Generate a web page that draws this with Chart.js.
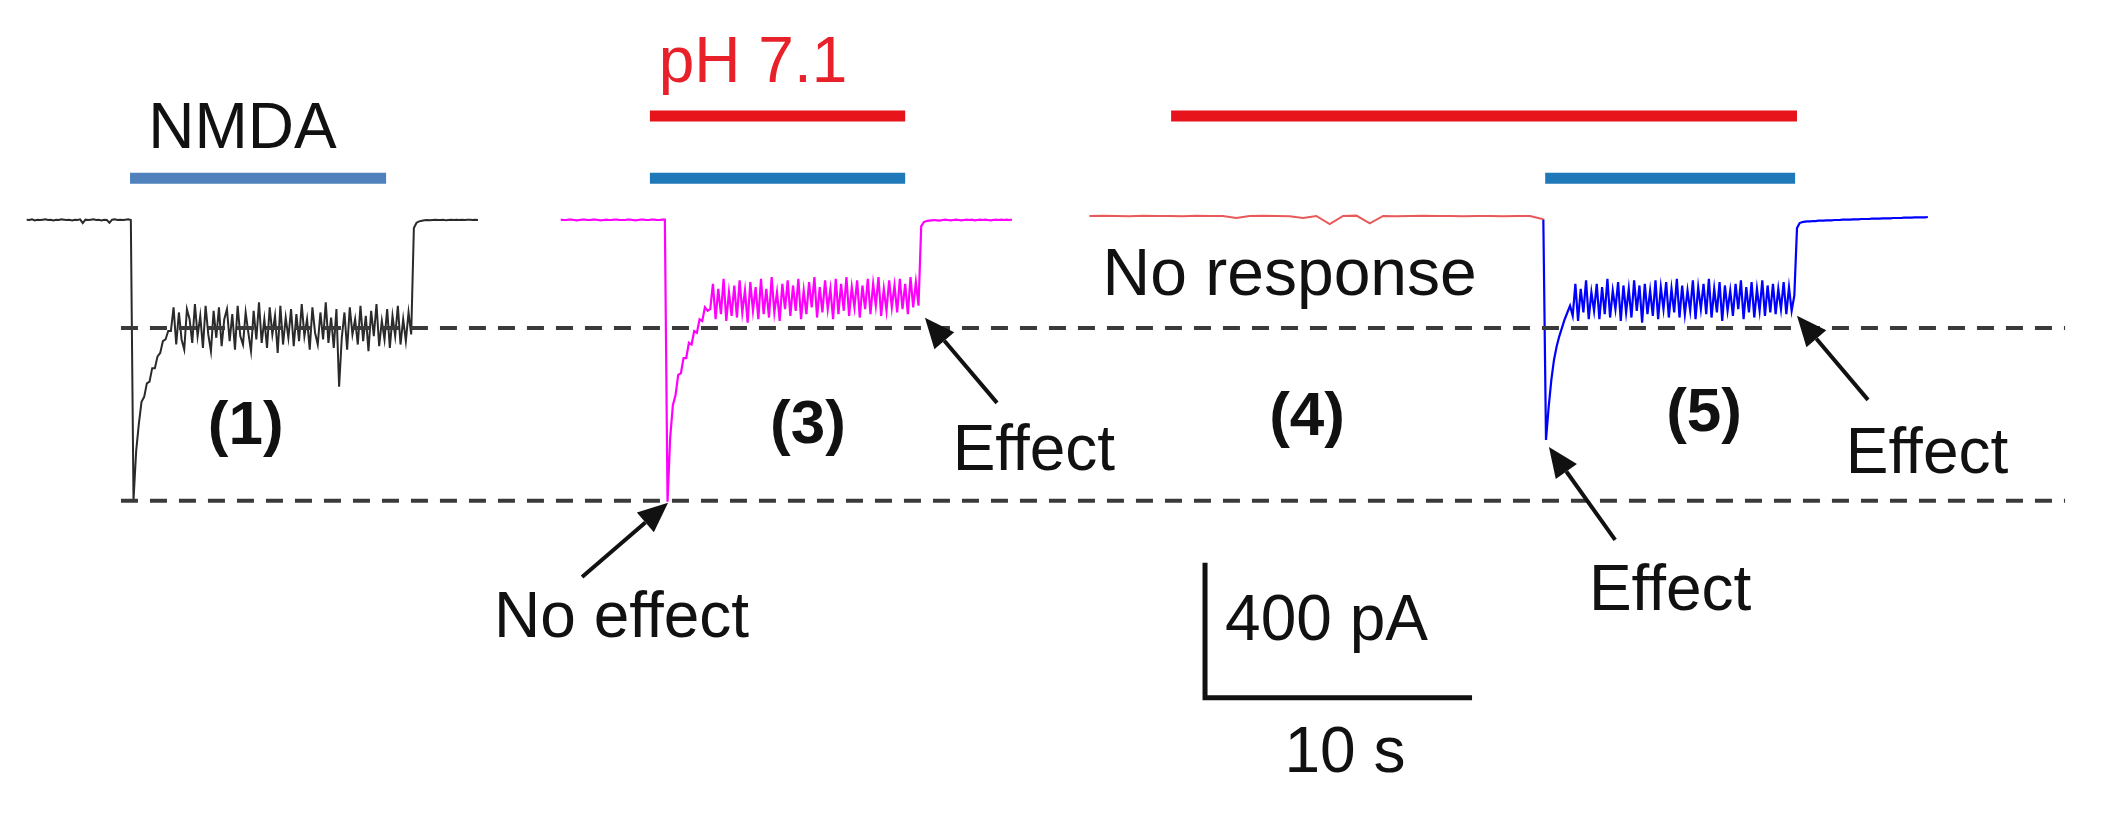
<!DOCTYPE html>
<html>
<head>
<meta charset="utf-8">
<script src="https://cdn.jsdelivr.net/npm/chart.js@4.4.0/dist/chart.umd.min.js"></script>
<style>
  html, body { margin: 0; padding: 0; background: #ffffff; }
  #wrap { width: 2111px; height: 821px; }
</style>
</head>
<body>
<div id="wrap"><canvas id="c" width="2111" height="821"></canvas></div>
<script>
// ---------------- DATA (time in s, current in pA) ----------------
// Trace (1): NMDA at normal pH — sampled recording
const trace1Start = 1.0;
const trace1Step = 0.1;
const trace1Current = [
  -5,-6,-4,-7,-5,-6,-5,-4,-6,-5,
  -7,-5,-6,-4,-5,-6,-5,-7,-5,-6,
  -4,-15,-5,-6,-5,-4,-6,-5,-7,-5,
  -6,-14,-5,-4,-6,-5,-6,-5,-4,-6,
  -836,-690,-610,-545,-530,-490,-485,-445,-445,-410,-400,-365,-360,-335,-335,
  -265,-375,-280,-360,-390,-270,-300,-370,-255,-350,
  -290,-385,-260,-345,-395,-275,-355,-265,-380,-300,
  -270,-365,-285,-390,-260,-350,-375,-280,-340,-395,
  -275,-360,-250,-370,-300,-385,-265,-345,-290,-400,
  -260,-375,-295,-355,-270,-380,-285,-365,-255,-350,
  -300,-390,-265,-340,-375,-280,-360,-250,-370,-295,
  -385,-270,-500,-355,-280,-390,-265,-345,-300,-375,
  -260,-365,-290,-395,-275,-350,-255,-380,-305,-360,
  -270,-385,-290,-350,-260,-375,-300,-365,-280,-345,
  -30,-14,-10,-8,-7,-6,-7,-6,-5,-6,-6,-5,-7,-6,-5,-6,-5,-6,-5,-6,-5,-5,-6,-5,-6
];

// Trace (3): NMDA applied with pH 7.1
const trace3Start = 21.0;
const trace3Step = 0.1;
const trace3Current = [
  -5,-6,-6,-5,-5,-6,-7,-6,-5,-5,
  -6,-6,-5,-5,-6,-7,-6,-5,-6,-6,
  -5,-5,-6,-6,-6,-5,-5,-6,-7,-6,
  -5,-5,-6,-6,-5,-5,-6,-6,-5,-5,
  -841,-650,-555,-525,-465,-460,-415,-415,-370,-375,-335,-340,-300,-305,-265,-275,
  -270,-195,-300,-210,-285,-180,-305,-220,-290,-200,
  -295,-185,-280,-215,-310,-190,-275,-205,-300,-180,
  -285,-210,-295,-175,-280,-220,-305,-195,-270,-185,
  -290,-200,-275,-180,-300,-215,-285,-190,-265,-175,
  -295,-205,-280,-185,-270,-210,-300,-180,-285,-195,
  -275,-175,-290,-205,-265,-185,-295,-200,-270,-180,
  -285,-195,-260,-175,-290,-210,-275,-185,-265,-200,
  -280,-180,-270,-195,-285,-175,-265,-190,-260,
  -25,-12,-9,-8,-7,-6,-7,-8,-6,-5,-6,-7,-6,-5,-6,-7,-6,-5,-6,-5,
  -7,-6,-5,-6,-5,-6,-7,-6,-5,-6,-5,-6,-5,-6,-5
];

// Trace (4): pH 7.1 alone — no response
const trace4Start = 40.8;
const trace4Step = 0.5;
const trace4Current = [
  6,7,6,5,7,6,6,5,7,6,
  6,0,6,7,6,5,0,6,-18,6,
  7,-16,6,5,6,7,6,6,5,6,
  6,5,6,6,-4
];

// Trace (5): NMDA added during pH 7.1
const trace5Start = 57.8;
const trace5Step = 0.1;
const trace5Current = [
  -4,
  -658,
  -560,-480,-420,-380,-350,-325,-300,-280,-260,
  -290,-195,-305,-210,-280,-185,-300,-220,-275,-195,
  -300,-205,-285,-180,-295,-215,-270,-190,-305,-200,
  -280,-210,-295,-185,-275,-200,-310,-195,-285,-215,
  -290,-185,-300,-205,-270,-190,-295,-210,-280,-180,
  -295,-200,-285,-215,-275,-185,-300,-205,-270,-195,
  -285,-180,-295,-210,-280,-190,-305,-200,-275,-215,
  -290,-195,-270,-185,-300,-205,-280,-190,-295,-210,
  -275,-185,-290,-200,-280,-195,-285,-210,-270,-190,
  -285,-205,-275,-230,
  -30,-15,-12,-11,-10,-10,-9,-9,-8,-8,
  -8,-7,-7,-7,-6,-6,-6,-5,-5,-5,
  -5,-4,-4,-4,-3,-3,-3,-3,-2,-2,
  -2,-2,-1,-1,-1,-1,0,0,0,0,
  1,1,1,1,2,2,2,2,2,3
];

// Application periods (s)
const nmdaStart = [4.87, 24.34, 57.87];
const nmdaEnd   = [14.46, 33.90, 67.23];
const phStart   = [24.34, 43.86];
const phEnd     = [33.90, 67.30];

// Reference levels from trace (1) (pA)
const peakLevel = -838;
const steadyLevel = -326;

// Scale bar sizes
const scaleBarTime = 10;     // s
const scaleBarCurrent = 400; // pA

// Annotation texts
const labelTexts = ["NMDA", "pH 7.1", "No response", "(1)", "(3)", "(4)", "(5)",
                    "Effect", "No effect", "Effect", "Effect", "400 pA", "10 s"];

// ---------------- LAYOUT / STYLE ----------------
const X_MIN = 0, X_MAX = 79.06;
const Y_MIN = -1787, Y_MAX = 646;
const NMDA_BAR_Y = 118, PH_BAR_Y = 302;
const DASH_FROM = 4.53, DASH_TO = 77.34;
const SCALE_ORIGIN = { t: 45.13, pA: -1422 };
const FONT = '"Liberation Sans", Arial, Helvetica, sans-serif';

const labelPlacement = [
  { t: 9.08,  pA: 207,   font: '64px ' + FONT, color: '#111' },
  { t: 28.2,  pA: 403,   font: '64px ' + FONT, color: '#e8202a' },
  { t: 48.3,  pA: -228,  font: '66px ' + FONT, color: '#111' },
  { t: 9.2,   pA: -670,  font: 'bold 62px ' + FONT, color: '#111' },
  { t: 30.26, pA: -667,  font: 'bold 62px ' + FONT, color: '#111' },
  { t: 48.95, pA: -643,  font: 'bold 62px ' + FONT, color: '#111' },
  { t: 63.82, pA: -631,  font: 'bold 62px ' + FONT, color: '#111' },
  { t: 38.72, pA: -747,  font: '64px ' + FONT, color: '#111' },
  { t: 23.28, pA: -1241, font: '64px ' + FONT, color: '#111' },
  { t: 62.55, pA: -1161, font: '64px ' + FONT, color: '#111' },
  { t: 72.17, pA: -756,  font: '64px ' + FONT, color: '#111' },
  { t: 49.68, pA: -1250, font: '64px ' + FONT, color: '#111' },
  { t: 50.37, pA: -1641, font: '64px ' + FONT, color: '#111' }
];

const arrows = [
  { from: { t: 37.34, pA: -548 },  to: { t: 34.64, pA: -296 } },
  { from: { t: 21.80, pA: -1064 }, to: { t: 25.02, pA: -844 } },
  { from: { t: 60.49, pA: -954 },  to: { t: 58.01, pA: -679 } },
  { from: { t: 69.96, pA: -539 },  to: { t: 67.30, pA: -290 } }
];

// ---------------- BUILD DATASETS ----------------
function sampled(start, step, values) {
  return values.map((v, i) => ({ x: +(start + i * step).toFixed(3), y: v }));
}
function segment(a, b, level) {
  return [{ x: a, y: level }, { x: b, y: level }];
}
const lineBase = { pointRadius: 0, tension: 0, fill: false, spanGaps: true };

const datasets = [];
// dashed reference lines (drawn on top)
[steadyLevel, peakLevel].forEach(level => {
  datasets.push(Object.assign({}, lineBase, {
    data: segment(DASH_FROM, DASH_TO, level),
    borderColor: '#3a3a3a', borderWidth: 4, borderDash: [17, 12]
  }));
});
// traces
datasets.push(Object.assign({}, lineBase, { data: sampled(trace1Start, trace1Step, trace1Current), borderColor: '#2a2a2a', borderWidth: 2 }));
datasets.push(Object.assign({}, lineBase, { data: sampled(trace3Start, trace3Step, trace3Current), borderColor: '#ff00ff', borderWidth: 2.2 }));
datasets.push(Object.assign({}, lineBase, { data: sampled(trace4Start, trace4Step, trace4Current), borderColor: '#e85a5a', borderWidth: 2 }));
datasets.push(Object.assign({}, lineBase, { data: sampled(trace5Start, trace5Step, trace5Current), borderColor: '#0000ff', borderWidth: 2.2 }));
// application bars
const nmdaColors = ['#4f81bd', '#1f78b8', '#1f78b8'];
nmdaStart.forEach((s, i) => {
  datasets.push(Object.assign({}, lineBase, { data: segment(s, nmdaEnd[i], NMDA_BAR_Y), borderColor: nmdaColors[i], borderWidth: 11, borderCapStyle: 'butt' }));
});
phStart.forEach((s, i) => {
  datasets.push(Object.assign({}, lineBase, { data: segment(s, phEnd[i], PH_BAR_Y), borderColor: '#e8141c', borderWidth: 11, borderCapStyle: 'butt' }));
});
// scale bar
datasets.push(Object.assign({}, lineBase, {
  data: [
    { x: SCALE_ORIGIN.t, y: SCALE_ORIGIN.pA + scaleBarCurrent },
    { x: SCALE_ORIGIN.t, y: SCALE_ORIGIN.pA },
    { x: SCALE_ORIGIN.t + scaleBarTime, y: SCALE_ORIGIN.pA }
  ],
  borderColor: '#111', borderWidth: 5, borderJoinStyle: 'miter', borderCapStyle: 'butt'
}));

// ---------------- OVERLAY PLUGIN (texts + arrows) ----------------
const overlay = {
  id: 'overlay',
  afterDatasetsDraw(chart) {
    const ctx = chart.ctx;
    const xs = chart.scales.x, ys = chart.scales.y;
    const X = v => xs.getPixelForValue(v), Y = v => ys.getPixelForValue(v);
    ctx.save();
    labelTexts.forEach((txt, i) => {
      const p = labelPlacement[i];
      ctx.font = p.font;
      ctx.fillStyle = p.color;
      ctx.textAlign = 'center';
      ctx.textBaseline = 'alphabetic';
      ctx.fillText(txt, X(p.t), Y(p.pA));
    });
    arrows.forEach(a => {
      const x0 = X(a.from.t), y0 = Y(a.from.pA), x1 = X(a.to.t), y1 = Y(a.to.pA);
      const ang = Math.atan2(y1 - y0, x1 - x0);
      const headLen = 30, headHalf = 13;
      const bx = x1 - headLen * Math.cos(ang), by = y1 - headLen * Math.sin(ang);
      ctx.strokeStyle = '#111';
      ctx.lineWidth = 4;
      ctx.beginPath(); ctx.moveTo(x0, y0); ctx.lineTo(bx, by); ctx.stroke();
      ctx.fillStyle = '#111';
      ctx.beginPath();
      ctx.moveTo(x1, y1);
      ctx.lineTo(bx + headHalf * Math.sin(ang), by - headHalf * Math.cos(ang));
      ctx.lineTo(bx - headHalf * Math.sin(ang), by + headHalf * Math.cos(ang));
      ctx.closePath(); ctx.fill();
    });
    ctx.restore();
  }
};

new Chart(document.getElementById('c'), {
  type: 'line',
  data: { datasets },
  options: {
    responsive: false,
    devicePixelRatio: 1,
    animation: false,
    events: [],
    layout: { padding: 0 },
    plugins: { legend: { display: false }, tooltip: { enabled: false } },
    scales: {
      x: { type: 'linear', min: X_MIN, max: X_MAX, display: false },
      y: { type: 'linear', min: Y_MIN, max: Y_MAX, display: false }
    }
  },
  plugins: [overlay]
});
</script>
</body>
</html>
